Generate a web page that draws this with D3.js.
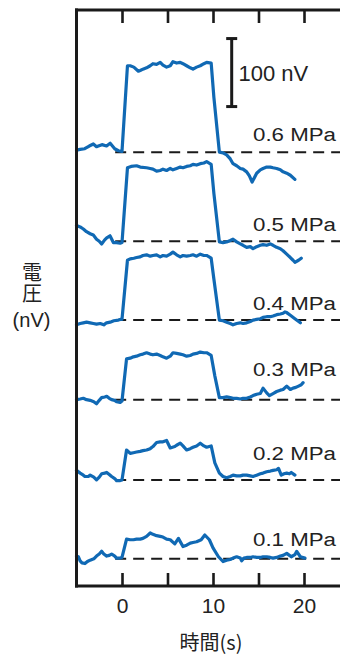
<!DOCTYPE html>
<html>
<head>
<meta charset="utf-8">
<script src="https://cdn.jsdelivr.net/npm/d3@7"></script>
<style>
  html, body { margin: 0; padding: 0; background: #fff; }
  svg { display: block; }
  text { font-family: "Liberation Sans", Arial, "Noto Sans", sans-serif; fill: #222; }
  .cjk { font-family: "Noto Sans CJK JP", "Noto Sans CJK SC", sans-serif; }
</style>
</head>
<body>
<svg id="chart" width="340" height="657"></svg>
<script>
// ---------------- DATA ----------------
const pressures = ["0.1 MPa", "0.2 MPa", "0.3 MPa", "0.4 MPa", "0.5 MPa", "0.6 MPa"];
const xTicks = [0, 5, 10, 15, 20];
const xTickLabels = ["0", "", "10", "", "20"];
const scaleBarValue = 100; // nV
const scaleBarLabel = "100 nV";

// traces: [time (s), voltage (nV)] relative to each trace's own baseline
const trace01 = [[-5,4],[-4.8,3],[-4.6,-3],[-4.4,-6],[-4.07,-7],[-3.8,-4],[-3.5,-2],[-3.1,0],[-2.8,4],[-2.5,7],[-2.24,11],[-2.0,7],[-1.68,4],[-1.4,5],[-1.14,7],[-0.8,4],[-0.6,1],[-0.2,1],[0,2],[0.5,29],[0.9,28],[1.25,28],[1.6,29],[2.0,29],[2.3,30],[2.7,33],[3.1,38],[3.4,36],[3.8,34],[4.2,33],[4.5,32],[4.9,29],[5.3,28],[5.8,22],[6.2,30],[6.7,18],[7.1,20],[7.5,23],[7.8,24],[8.2,25],[8.7,28],[9.1,35],[9.6,28],[10.0,16],[10.6,3],[11.1,-4],[11.5,-2],[11.9,-1],[12.2,1],[12.6,3],[13.0,1],[13.15,-3],[13.4,1],[13.7,2],[14.1,2],[14.4,3],[14.8,2],[15.2,2],[15.5,3],[15.9,3],[16.3,2],[16.6,1],[17.0,2],[17.4,4],[17.7,5],[18.1,8],[18.4,5],[18.6,3],[19.0,6],[19.2,11],[19.6,3],[20.1,1]];
const trace02 = [[-5,14],[-4.6,10],[-4.25,7],[-4.07,5],[-3.7,5],[-3.5,7],[-3.1,4],[-2.8,0],[-2.5,4],[-2.24,9],[-1.9,10],[-1.68,11],[-1.4,8],[-1.14,5],[-0.8,2],[-0.6,-1],[-0.2,-1],[0,0],[0.5,44],[0.9,39],[1.25,40],[1.6,41],[2.0,42],[2.3,43],[2.7,44],[3.1,46],[3.4,49],[3.8,55],[4.2,56],[4.5,56],[4.9,58],[5.3,47],[5.8,49],[6.0,51],[6.4,54],[6.7,50],[7.1,44],[7.5,46],[7.8,48],[8.2,50],[8.6,54],[9.0,50],[9.3,48],[9.8,50],[10.2,25],[10.7,10],[11.1,5],[11.5,3],[11.9,5],[12.2,7],[12.6,6],[13.0,6],[13.3,7],[13.7,7],[14.1,6],[14.4,5],[14.8,7],[15.2,9],[15.5,10],[15.9,12],[16.3,13],[16.6,14],[17.0,15],[17.2,17],[17.5,7],[17.8,9],[18.1,10],[18.4,9],[18.6,11],[19.0,7]];
const trace03 = [[-5,0],[-4.6,1],[-4.25,2],[-3.9,0],[-3.5,-1],[-3.1,-3],[-2.8,-6],[-2.5,-1],[-2.24,3],[-1.9,4],[-1.68,5],[-1.4,2],[-1.14,0],[-0.8,-1],[-0.6,-3],[-0.2,-4],[0,-2],[0.5,60],[0.9,61],[1.25,63],[1.6,64],[2.0,66],[2.3,67],[2.7,69],[3.1,67],[3.4,66],[3.8,67],[4.2,65],[4.5,63],[4.9,61],[5.3,64],[5.6,69],[6.0,68],[6.4,67],[6.7,66],[7.1,64],[7.5,65],[7.8,67],[8.2,68],[8.6,70],[9.0,69],[9.3,69],[9.8,65],[10.2,35],[10.7,3],[11.1,3],[11.5,4],[11.9,3],[12.2,2],[12.6,2],[13.0,1],[13.3,2],[13.7,2],[14.1,4],[14.4,6],[14.8,8],[15.2,9],[15.5,17],[15.9,10],[16.2,6],[16.6,9],[17.0,12],[17.4,14],[17.7,15],[18.1,20],[18.5,15],[18.8,17],[19.1,18],[19.4,20],[19.7,22],[19.9,25]];
const trace04 = [[-5,-7],[-4.6,-5],[-4.25,-4],[-3.9,-3],[-3.5,-4],[-3.15,-5],[-2.8,-6],[-2.4,-5],[-2.0,-7],[-1.7,-4],[-1.3,-3],[-0.9,-1],[-0.4,0],[-0.2,1],[0,1],[0.6,88],[0.9,90],[1.3,91],[1.6,92],[2.0,93],[2.3,95],[2.7,96],[3.1,94],[3.4,95],[3.8,96],[4.2,93],[4.5,95],[4.9,94],[5.3,97],[5.6,100],[6.0,96],[6.4,93],[6.7,95],[7.1,94],[7.5,95],[7.8,96],[8.2,94],[8.6,97],[9.0,95],[9.3,95],[9.8,91],[10.1,60],[10.7,0],[11.1,-1],[11.5,-3],[11.9,-5],[12.2,-7],[12.6,-5],[13.0,-4],[13.3,-5],[13.7,-4],[14.1,-2],[14.4,0],[14.8,1],[15.2,2],[15.5,4],[15.9,5],[16.3,5],[16.6,6],[17.0,8],[17.4,9],[17.7,10],[17.9,12],[18.1,11],[18.5,7],[19.0,2],[19.3,-1],[19.6,-4]];
const trace05 = [[-5,23],[-4.6,21],[-4.25,18],[-3.9,14],[-3.5,11],[-3.15,9],[-2.8,3],[-2.5,0],[-2.24,-4],[-1.9,2],[-1.68,5],[-1.32,8],[-0.95,-2],[-0.6,-2],[-0.2,-3],[0,-2],[0.6,108],[1.0,110],[1.6,111],[2.0,109],[2.7,108],[3.1,107],[3.4,106],[3.8,103],[4.2,104],[4.5,106],[4.9,104],[5.3,107],[5.6,105],[6.0,107],[6.4,109],[6.7,108],[7.1,110],[7.5,111],[7.8,113],[8.2,112],[8.6,114],[9.0,115],[9.3,117],[9.8,113],[10.1,70],[10.7,-1],[11.1,-2],[11.5,-1],[11.9,1],[12.2,3],[12.6,-1],[13.0,-4],[13.3,-6],[13.7,-9],[14.1,-8],[14.4,-11],[14.8,-8],[15.2,-6],[15.5,-5],[15.9,-6],[16.3,-4],[16.6,-6],[17.0,-9],[17.4,-11],[17.7,-14],[18.1,-19],[18.5,-24],[18.8,-28],[19.0,-31],[19.4,-28],[19.7,-25]];
const trace06 = [[-5,3],[-4.6,4],[-4.1,5],[-3.6,9],[-3.15,12],[-2.8,8],[-2.6,9],[-2.2,11],[-1.7,9],[-1.3,13],[-0.8,5],[-0.4,2],[0,1],[0.6,127],[0.9,127],[1.3,125],[1.8,119],[2.0,120],[2.3,122],[2.7,124],[3.1,127],[3.4,130],[3.8,129],[4.2,132],[4.5,128],[4.9,125],[5.3,127],[5.6,133],[6.0,131],[6.4,132],[6.7,130],[7.1,127],[7.5,124],[7.8,122],[8.2,125],[8.6,127],[9.0,130],[9.3,132],[9.8,131],[10.1,80],[10.7,0],[11.1,-1],[11.5,-4],[11.9,-10],[12.2,-17],[12.6,-20],[13.0,-24],[13.3,-25],[13.7,-29],[14.0,-35],[14.3,-44],[14.8,-31],[15.2,-26],[15.5,-24],[15.9,-22],[16.3,-22],[16.6,-23],[17.0,-24],[17.4,-26],[17.7,-29],[18.1,-31],[18.5,-34],[19.0,-40]];
const traces = [trace01, trace02, trace03, trace04, trace05, trace06];

// vertical stacking offsets of each trace baseline (nV)
const offsets = [40, 156, 274, 391, 507, 638];
const scaleBarBase = 705; // nV, bottom of the 100 nV scale bar

(function draw() {
  const W = 340;
  const mLeft = 76.5, mRight = 340.4, mTop = 10, mBottom = 586;
  const labelGap = [13, 20, 24, 10, 10, 11]; // px above baseline for pressure labels

  const svg = d3.select("#chart");
  const x = d3.scaleLinear().domain([-5, 24]).range([mLeft, mRight]);
  const y = d3.scaleLinear().domain([0, 847]).range([mBottom, mTop]);

  const BLUE = "#1069b4";
  const INK = "#1a1a1a";

  // dashed baselines
  svg.append("g").selectAll("line").data(offsets).join("line")
    .attr("x1", x(-0.75)).attr("x2", W)
    .attr("y1", d => y(d)).attr("y2", d => y(d))
    .attr("stroke", INK).attr("stroke-width", 2)
    .attr("stroke-dasharray", "11,7");

  // traces
  const line = d3.line().x(d => x(d[0]));
  svg.append("g").selectAll("path").data(traces).join("path")
    .attr("fill", "none")
    .attr("stroke", BLUE)
    .attr("stroke-width", 3.2)
    .attr("stroke-linejoin", "round")
    .attr("stroke-linecap", "round")
    .attr("d", (d, i) => line.y(p => y(p[1] + offsets[i]))(d));

  // pressure labels
  svg.append("g").selectAll("text").data(pressures).join("text")
    .attr("x", 253)
    .attr("y", (d, i) => y(offsets[i]) - labelGap[i])
    .attr("font-size", 18)
    .attr("textLength", 83)
    .attr("lengthAdjust", "spacingAndGlyphs")
    .text(d => d);

  // axes (frame)
  const bottomAxis = d3.axisBottom(x).tickValues(xTicks).tickSizeInner(-13).tickSizeOuter(0)
    .tickFormat((d, i) => xTickLabels[i]).tickPadding(12);
  const gB = svg.append("g").attr("transform", `translate(0,${mBottom})`).call(bottomAxis);
  gB.select(".domain").attr("stroke", INK).attr("stroke-width", 3)
    .attr("d", `M${mLeft - 1.5},0H${W}`);
  gB.selectAll(".tick line").attr("stroke", INK).attr("stroke-width", 2.6);
  gB.selectAll(".tick text").attr("font-size", 21)
    .attr("font-family", "'Liberation Sans', Arial, sans-serif").attr("fill", "#222");

  const topAxis = d3.axisTop(x).tickValues(xTicks).tickSizeInner(-13).tickSizeOuter(0).tickFormat("");
  const gT = svg.append("g").attr("transform", `translate(0,${mTop})`).call(topAxis);
  gT.select(".domain").attr("stroke", INK).attr("stroke-width", 3)
    .attr("d", `M${mLeft - 1.5},0H${W}`);
  gT.selectAll(".tick line").attr("stroke", INK).attr("stroke-width", 2.6);

  const leftAxis = d3.axisLeft(y).tickValues([]).tickSizeOuter(0);
  const gL = svg.append("g").attr("transform", `translate(${mLeft},0)`).call(leftAxis);
  gL.select(".domain").attr("stroke", INK).attr("stroke-width", 3)
    .attr("d", `M0,${mTop - 1.5}V${mBottom + 1.5}`);

  // scale bar
  const sbX = 231.7;
  const sb = svg.append("g").attr("stroke", INK).attr("stroke-width", 3);
  sb.append("line").attr("x1", sbX).attr("x2", sbX)
    .attr("y1", y(scaleBarBase)).attr("y2", y(scaleBarBase + scaleBarValue));
  sb.append("line").attr("x1", sbX - 5.5).attr("x2", sbX + 5.5)
    .attr("y1", y(scaleBarBase)).attr("y2", y(scaleBarBase));
  sb.append("line").attr("x1", sbX - 5.5).attr("x2", sbX + 5.5)
    .attr("y1", y(scaleBarBase + scaleBarValue)).attr("y2", y(scaleBarBase + scaleBarValue));
  svg.append("text").attr("x", 238.5).attr("y", (y(scaleBarBase) + y(scaleBarBase + scaleBarValue)) / 2 + 8)
    .attr("font-size", 22).text(scaleBarLabel);

  // axis titles
  svg.append("text").attr("class", "cjk").attr("x", 211).attr("y", 650)
    .attr("text-anchor", "middle").attr("font-size", 20).text("時間(s)");

  // y title: vertical 電圧 then (nV)
  svg.append("text").attr("class", "cjk")
    .attr("x", 32).attr("y", 262)
    .attr("writing-mode", "vertical-rl")
    .attr("letter-spacing", 1.5)
    .attr("font-size", 20).text("電圧");
  svg.append("text").attr("x", 31.5).attr("y", 327)
    .attr("text-anchor", "middle").attr("font-size", 20).text("(nV)");
})();
</script>
</body>
</html>
